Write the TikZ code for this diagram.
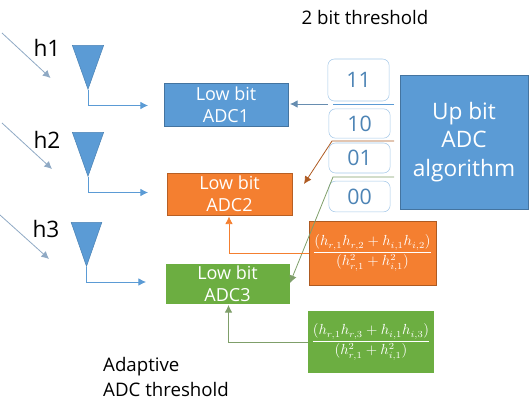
\documentclass[tikz,border=0pt]{standalone}
\usepackage{amsmath,amssymb}
\usepackage{fontspec}
\setmainfont{Open Sans}
\usepackage{xcolor}
\usetikzlibrary{arrows.meta,shapes.geometric}
\definecolor{adcblue}{HTML}{5B9BD5}
\definecolor{adcorange}{HTML}{F47F30}
\definecolor{adcgreen}{HTML}{6CAE41}
\definecolor{edgeblue}{HTML}{41719C}
\definecolor{edgeorange}{HTML}{AE5A21}
\definecolor{linegray}{HTML}{8FA9C4}
\definecolor{linegreen}{HTML}{7F9F6A}

\begin{document}
\begin{tikzpicture}[
    x=0.75pt, y=-0.75pt,
    antenna/.style={isosceles triangle, isosceles triangle stretches, shape border rotate=-90, anchor=apex, draw=adcblue!85!black, fill=adcblue, inner sep=0pt, minimum width=23.5pt, minimum height=33pt},
    adc/.style={draw=#1!75!black, fill=#1, text=white, inner sep=0pt, align=center, font=\fontsize{13.5}{16.5}\selectfont},
    level/.style={draw=adcblue!55, rounded corners=5pt, text=adcblue!85!black, minimum width=46pt, font=\fontsize{16}{18}\selectfont},
    formula/.style={fill=#1, text=white, inner sep=0pt, minimum width=95pt, font=\fontsize{10.5}{12}\selectfont},
    label/.style={font=\fontsize{17}{18}\selectfont},
    caption/.style={font=\fontsize{14}{18.7}\selectfont, align=left},
    arrow/.style={-{Latex[length=2mm,width=2mm]}, draw=#1, line width=0.6pt}
]
\useasboundingbox (0,0) rectangle (530,413);

\node[antenna] (ant1) at (88,90) {};
\node[antenna] (ant2) at (88,177) {};
\node[antenna, minimum width=23pt] (ant3) at (86.5,267) {};

\node[label] (h1) at (47,48) {h1};
\node[label] (h2) at (47,140) {h2};
\node[label] (h3) at (46,229) {h3};

% incoming paths
\coordinate (in1a) at (2,33);
\coordinate (in1b) at (50.5,78);
\coordinate (in2a) at (2,123);
\coordinate (in2b) at (52,169);
\coordinate (in3a) at (0,215);
\coordinate (in3b) at (49,259);
\draw[arrow=linegray] (in1a) -- (in1b);
\draw[arrow=linegray] (in2a) -- (in2b);
\draw[arrow=linegray] (in3a) -- (in3b);

% antenna outputs
\coordinate (out1) at (148,105.5);
\coordinate (out2) at (148,192.5);
\coordinate (out3) at (146,282);
\draw[arrow=adcblue] (ant1.apex) |- (out1);
\draw[arrow=adcblue] (ant2.apex) |- (out2);
\draw[arrow=adcblue] (ant3.apex) |- (out3);

\node[adc=adcblue, minimum width=93pt, minimum height=32pt] (adc1) at (226,104.5) {Low bit\\ADC1};
\node[adc=adcorange, minimum width=94pt, minimum height=31.5pt] (adc2) at (229.5,194) {Low bit\\ADC2};
\node[adc=adcgreen, draw=adcgreen, minimum width=92pt, minimum height=29pt] (adc3) at (227.5,283.5) {Low bit\\ADC3};

\node[level, minimum height=31.5pt] (lev11) at (358.5,80) {11};
\node[level, minimum height=22pt] (lev10) at (359.5,123.5) {10};
\node[level, minimum height=22.5pt] (lev01) at (359.5,158) {01};
\node[level, minimum height=23pt] (lev00) at (359.5,196.5) {00};

\node[adc=adcblue, minimum width=96pt, minimum height=100.5pt, font=\fontsize{17}{21.5}\selectfont] (upbit) at (464,142) {Up bit\\ADC\\algorithm};

\node[formula=adcorange, draw=edgeorange, minimum height=48pt] (form2) at (372.5,253) {$\dfrac{(h_{r,1}h_{r,2}+h_{i,1}h_{i,2})}{(h_{r,1}^2+h_{i,1}^2)}$};
\node[formula=adcgreen, minimum height=46.5pt] (form3) at (371,342) {$\dfrac{(h_{r,1}h_{r,3}+h_{i,1}h_{i,3})}{(h_{r,1}^2+h_{i,1}^2)}$};

\node[caption] (title) at (365,18) {2 bit threshold};
\node[caption, anchor=west] (adapt) at (98.5,377) {Adaptive\\ADC threshold};

% threshold lines
\coordinate (t1a) at (394,104);
\coordinate (t1b) at (333,104);
\coordinate (t1c) at (328,104);
\coordinate (t2a) at (394,141);
\coordinate (t2b) at (332,141);
\coordinate (t2c) at (304,184);
\coordinate (t3a) at (394,177);
\coordinate (t3b) at (333,177);
\coordinate (t3c) at (290,283);
\coordinate (tip1) at (290,104);
\draw[draw=adcblue, line width=0.6pt] (t1a) -- (t1b);
\draw[arrow=edgeblue!80] (t1c) -- (tip1);
\draw[arrow=edgeorange] (t2a) -- (t2b) -- (t2c);
\draw[arrow=linegreen] (t3a) -- (t3b) -- (t3c);

% formula feedback
\coordinate (back2) at (229,216.5);
\coordinate (back3) at (228.5,305);
\coordinate (form2w) at (309,253);
\coordinate (form3w) at (308,342.5);
\draw[arrow=adcorange] (form2w) -| (back2);
\draw[arrow=linegreen] (form3w) -| (back3);

\end{tikzpicture}
\end{document}
